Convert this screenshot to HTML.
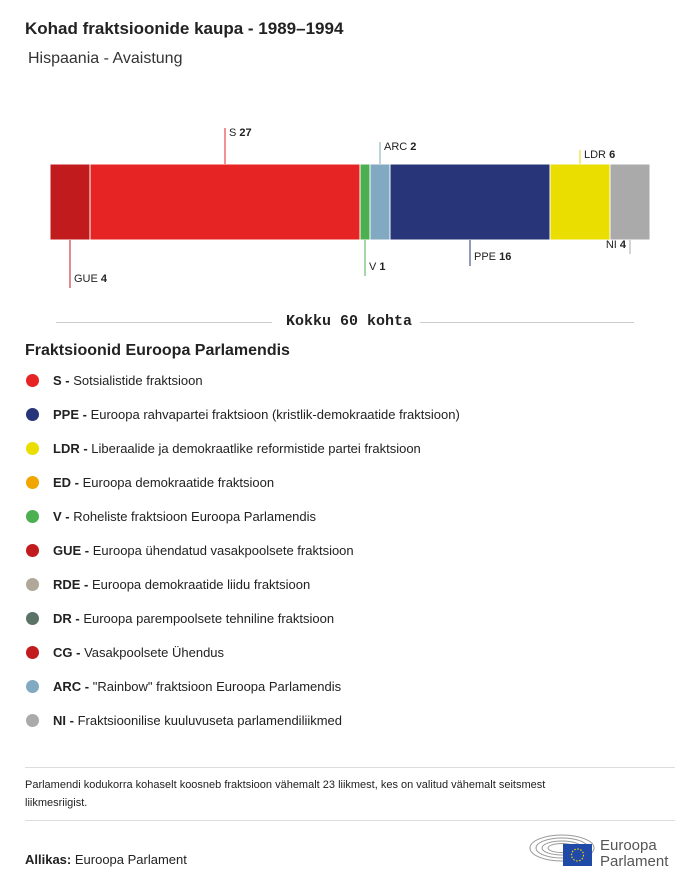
<!DOCTYPE html>
<html><head><meta charset="utf-8"><style>
body{margin:0;width:700px;height:886px;background:#fff;font-family:"Liberation Sans",sans-serif;color:#222;position:relative;overflow:hidden}
.a{position:absolute;white-space:nowrap}
.leg{position:absolute;left:25px;font-size:13px;white-space:nowrap;width:660px;height:16px}
.leg span.d{position:absolute;left:1px;top:1px;width:13px;height:13px;border-radius:50%}
.leg .t{position:absolute;left:28px;top:0;white-space:nowrap}
</style></head><body>
<div class="a" style="left:25px;top:19px;font-size:17px;font-weight:bold">Kohad fraktsioonide kaupa - 1989–1994</div>
<div class="a" style="left:28px;top:50px;font-size:16px;color:#333">Hispaania - Avaistung</div>
<svg id="chart" width="700" height="300" style="position:absolute;left:0;top:0"></svg>
<div class="a" style="left:56px;top:322px;width:216px;border-top:1px solid #ccc"></div>
<div class="a" style="left:286px;top:313px;font-family:'Liberation Mono',monospace;font-weight:bold;font-size:15px">Kokku 60 kohta</div>
<div class="a" style="left:420px;top:322px;width:214px;border-top:1px solid #ccc"></div>
<div class="a" style="left:25px;top:342px;font-size:16px;font-weight:bold">Fraktsioonid Euroopa Parlamendis</div>
<div id="legend"></div>
<div class="a" style="left:25px;top:767px;width:650px;border-top:1px solid #ddd"></div>
<div class="a" style="left:25px;top:776px;font-size:11px;line-height:18px;white-space:normal;width:560px">Parlamendi kodukorra kohaselt koosneb fraktsioon vähemalt 23 liikmest, kes on valitud vähemalt seitsmest liikmesriigist.</div>
<div class="a" style="left:25px;top:820px;width:650px;border-top:1px solid #ddd"></div>
<div class="a" style="left:25px;top:852px;font-size:13px"><b>Allikas:</b> Euroopa Parlament</div>
<svg class="a" style="left:528px;top:828px" width="150" height="44">
<g fill="none" stroke="#999" stroke-width="1"><ellipse cx="34" cy="20" rx="32" ry="13"/><ellipse cx="34" cy="20" rx="26" ry="10"/><ellipse cx="34" cy="20" rx="20" ry="7"/><ellipse cx="34" cy="20" rx="14" ry="4.5"/></g>
<rect x="35" y="16" width="29" height="22" fill="#1f4aa8"/><circle cx="49.5" cy="27" r="6" fill="none" stroke="#fc0" stroke-width="1.2" stroke-dasharray="1.5 1.6"/>
<text x="72" y="22" font-size="15" fill="#555" font-family="Liberation Sans">Euroopa</text>
<text x="72" y="38" font-size="15" fill="#555" font-family="Liberation Sans">Parlament</text>
</svg>
<script>
const groups=["GUE","S","V","ARC","PPE","LDR","NI"];
const seats=[4,27,1,2,16,6,4];
const colors=["#c21b1e","#e62423","#4caf50","#82a9c2","#283579","#eadd00","#aaaaaa"];
const labelPos=["below","above","below","above","below","above","below"];
const labelLen=[48,36,36,22,26,14,14];
const NS="http://www.w3.org/2000/svg";
const svg=document.getElementById('chart');
const total=seats.reduce((a,b)=>a+b,0);
const x0=50,w=600,y0=164,h=76;
const xs=v=>x0+v*w/total;
function mk(t,a){const e=document.createElementNS(NS,t);for(const k in a)e.setAttribute(k,a[k]);svg.appendChild(e);return e;}
let cum=0;
groups.forEach((g,i)=>{
 const xa=xs(cum),xb=xs(cum+seats[i]);
 const r=mk('rect',{x:xa,y:y0,width:xb-xa,height:h,fill:colors[i],stroke:'#fff','stroke-width':1});
 
 
 const mx=(xa+xb)/2;
 const up=labelPos[i]==='above';
 const ya=up?y0:y0+h, yb=up?y0-labelLen[i]:y0+h+labelLen[i];
 const l=mk('line',{x1:mx,x2:mx,y1:ya,y2:yb,stroke:colors[i]==='#aaaaaa'?'#aaa':colors[i],'stroke-width':1});
 
 
 const ty=up?yb+8:yb-6;
 const anchorEnd=(i===groups.length-1);
 const t=mk('text',{x:anchorEnd?mx-4:mx+4,y:ty,'font-size':11,fill:'#222','font-family':'Liberation Sans','text-anchor':anchorEnd?'end':'start'});
 
 
 t.innerHTML=g+' <tspan font-weight="bold">'+seats[i]+'</tspan>';
 cum+=seats[i];
});
const legAbbr=["S","PPE","LDR","ED","V","GUE","RDE","DR","CG","ARC","NI"];
const legText=["Sotsialistide fraktsioon","Euroopa rahvapartei fraktsioon (kristlik-demokraatide fraktsioon)","Liberaalide ja demokraatlike reformistide partei fraktsioon","Euroopa demokraatide fraktsioon","Roheliste fraktsioon Euroopa Parlamendis","Euroopa ühendatud vasakpoolsete fraktsioon","Euroopa demokraatide liidu fraktsioon","Euroopa parempoolsete tehniline fraktsioon","Vasakpoolsete Ühendus","\"Rainbow\" fraktsioon Euroopa Parlamendis","Fraktsioonilise kuuluvuseta parlamendiliikmed"];
const legColors=["#e62423","#283579","#eadd00","#f0a500","#4caf50","#c21b1e","#b0a898","#5a7366","#c21b1e","#82a9c2","#aaaaaa"];
const L=document.getElementById('legend');
legAbbr.forEach((a,i)=>{
 const d=document.createElement('div');d.className='leg';d.style.top=(373+i*34)+'px';
 
 
 d.innerHTML='<span class="d" style="background:'+legColors[i]+'"></span><span class="t"><b>'+a+' -</b> '+legText[i]+'</span>';
 L.appendChild(d);
});
</script>
</body></html>
